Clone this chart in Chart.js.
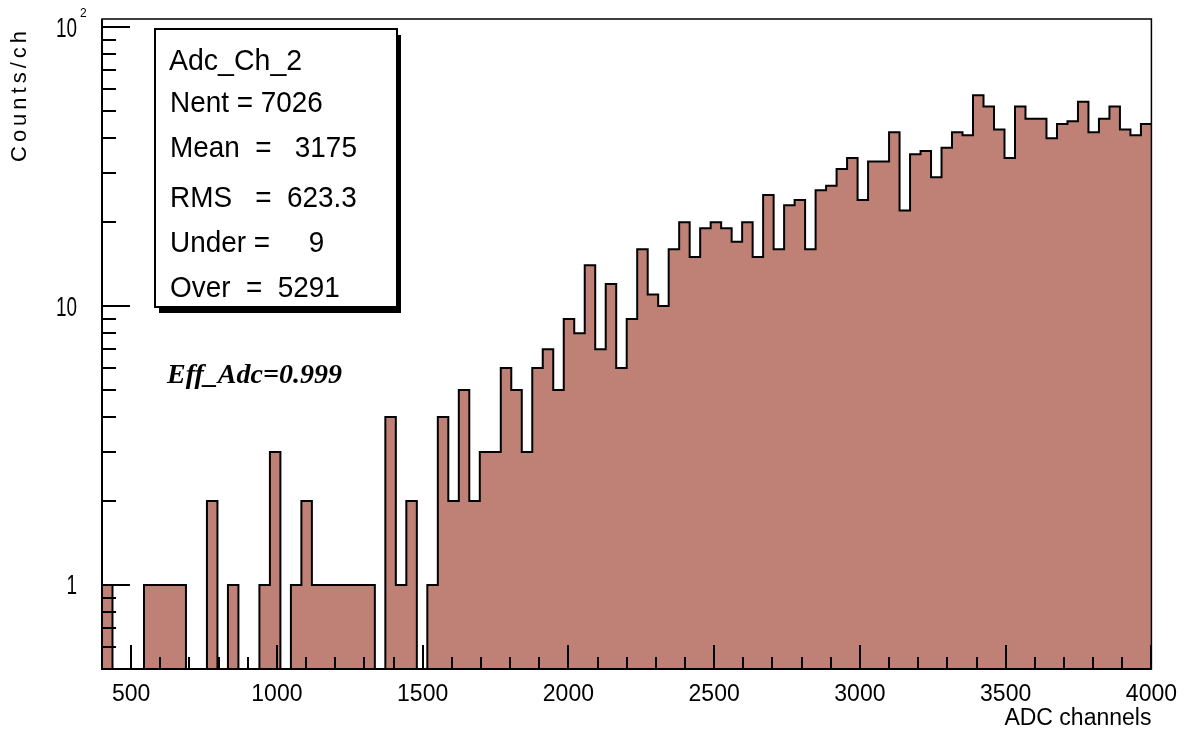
<!DOCTYPE html>
<html>
<head>
<meta charset="utf-8">
<title>Adc_Ch_2</title>
<script src="https://cdn.jsdelivr.net/npm/chart.js@4/dist/chart.umd.min.js"></script>
<style>
  html, body { margin: 0; padding: 0; background: #ffffff; }
  #wrap { width: 1189px; height: 736px; }
</style>
</head>
<body>
<div id="wrap"><canvas id="hist" width="1189" height="736"></canvas></div>
<script>
// ADC channel 2 spectrum: 100 bins of 36 channels between 400 and 4000
const histName = 'Adc_Ch_2';
const binLow = 400;
const binHigh = 4000;
const binWidth = 36;
const counts = [
   1,  0,  0,  0,  1,  1,  1,  1,  0,  0,
   2,  0,  1,  0,  0,  1,  3,  0,  1,  2,
   1,  1,  1,  1,  1,  1,  0,  4,  1,  2,
   0,  1,  4,  2,  5,  2,  3,  3,  6,  5,
   3,  6,  7,  5,  9,  8, 14,  7, 12,  6,
   9, 16, 11, 10, 16, 20, 15, 19, 20, 19,
  17, 20, 15, 25, 16, 23, 24, 16, 26, 27,
  31, 34, 24, 33, 33, 42, 22, 35, 36, 29,
  37, 42, 41, 57, 52, 43, 34, 52, 47, 47,
  40, 45, 46, 54, 42, 47, 52, 43, 41, 45
];

// statistics box
const statLines = [
  'Nent = 7026',
  'Mean  =   3175',
  'RMS   =  623.3',
  'Under =     9',
  'Over  =  5291'
];
const effLabel = 'Eff_Adc=0.999';

// axes
const xTitle = 'ADC channels';
const yTitle = 'Counts/ch';
const xMajorTicks = [500, 1000, 1500, 2000, 2500, 3000, 3500, 4000];
const xMinorTicks = [600, 700, 800, 900, 1100, 1200, 1300, 1400, 1600, 1700, 1800, 1900,
                     2100, 2200, 2300, 2400, 2600, 2700, 2800, 2900, 3100, 3200, 3300, 3400,
                     3600, 3700, 3800, 3900];
const yMajorTicks = [1, 10, 100];
const yTickBase = ['1', '10', '10'];
const yTickExp = ['', '', '2'];
const yMinorTicks = [0.6, 0.7, 0.8, 0.9, 2, 3, 4, 5, 6, 7, 8, 9, 20, 30, 40, 50, 60, 70, 80, 90];
const yMin = 0.5;
const yMax = 107;

// empty bins are sent below the axis floor so the outline drops to the bottom
const EMPTY = 0.01;
const steps = [{ x: binLow, y: EMPTY }];
counts.forEach((c, i) => steps.push({ x: binLow + i * binWidth, y: c > 0 ? c : EMPTY }));
steps.push({ x: binHigh, y: counts[counts.length - 1] > 0 ? counts[counts.length - 1] : EMPTY });

const SANS = '"Liberation Sans", Arial, Helvetica, sans-serif';
const SERIF = '"Liberation Serif", "Times New Roman", serif';

function scaledText(ctx, text, x, y, sx) {
  ctx.save();
  ctx.translate(x, y);
  ctx.scale(sx, 1);
  ctx.fillText(text, 0, 0);
  ctx.restore();
}

// frame, inward tick marks, log labels, y title, stats box and efficiency note
const decorations = {
  id: 'decorations',
  afterDraw(chart) {
    const ctx = chart.ctx;
    const area = chart.chartArea;
    const xs = chart.scales.x;
    const ys = chart.scales.y;
    ctx.save();
    ctx.strokeStyle = '#000';
    ctx.fillStyle = '#000';
    ctx.lineCap = 'butt';

    // y tick marks (pointing into the plot)
    ctx.lineWidth = 2;
    ctx.beginPath();
    yMajorTicks.forEach(v => {
      const y = Math.round(ys.getPixelForValue(v));
      ctx.moveTo(area.left, y); ctx.lineTo(area.left + 28, y);
    });
    yMinorTicks.forEach(v => {
      const y = Math.round(ys.getPixelForValue(v));
      ctx.moveTo(area.left, y); ctx.lineTo(area.left + 14, y);
    });
    ctx.stroke();

    // x tick marks (pointing up)
    ctx.beginPath();
    xMajorTicks.forEach(v => {
      const x = Math.round(xs.getPixelForValue(v));
      ctx.moveTo(x, area.bottom); ctx.lineTo(x, area.bottom - 24);
    });
    xMinorTicks.forEach(v => {
      const x = Math.round(xs.getPixelForValue(v));
      ctx.moveTo(x, area.bottom); ctx.lineTo(x, area.bottom - 12);
    });
    ctx.stroke();

    // frame
    ctx.lineWidth = 1.5;
    ctx.strokeRect(area.left, area.top, area.right - area.left, area.bottom - area.top);
    ctx.lineWidth = 2;
    ctx.beginPath();
    ctx.moveTo(area.left, area.top); ctx.lineTo(area.left, area.bottom); ctx.lineTo(area.right, area.bottom);
    ctx.stroke();

    // y tick labels with exponent
    ctx.textAlign = 'right';
    ctx.textBaseline = 'middle';
    yMajorTicks.forEach((v, i) => {
      const y = ys.getPixelForValue(v);
      ctx.font = '27px ' + SANS;
      ctx.save();
      ctx.translate(77, y + 2);
      ctx.scale(0.7, 1);
      ctx.fillText(yTickBase[i], 0, 0);
      ctx.restore();
      if (yTickExp[i]) {
        ctx.font = '12px ' + SANS;
        ctx.textAlign = 'left';
        ctx.fillText(yTickExp[i], 80, y - 14);
        ctx.textAlign = 'right';
      }
    });

    // y axis title, read bottom to top, flush with the top of the frame
    ctx.save();
    ctx.translate(20, 162);
    ctx.rotate(-Math.PI / 2);
    ctx.font = '22px ' + SANS;
    ctx.textAlign = 'left';
    ctx.textBaseline = 'middle';
    if ('letterSpacing' in ctx) ctx.letterSpacing = '4px';
    ctx.fillText(yTitle, 0, 0);
    ctx.restore();

    // statistics box with drop shadow
    const bx = 155, by = 29, bw = 242, bh = 278;
    ctx.fillRect(bx + 4, by + 6, bw, bh);
    ctx.fillStyle = '#fff';
    ctx.fillRect(bx, by, bw, bh);
    ctx.lineWidth = 2;
    ctx.strokeRect(bx, by, bw, bh);
    ctx.fillStyle = '#000';
    ctx.textAlign = 'left';
    ctx.textBaseline = 'alphabetic';
    ctx.font = '30px ' + SANS;
    scaledText(ctx, histName, 169, 70, 0.95);
    const baselines = [112, 157, 207, 252, 297];
    statLines.forEach((t, i) => scaledText(ctx, t, 170, baselines[i], 0.93));

    // efficiency note
    ctx.font = 'italic bold 28px ' + SERIF;
    ctx.fillText(effLabel, 167, 383);
    ctx.restore();
  }
};

new Chart(document.getElementById('hist'), {
  type: 'line',
  data: {
    datasets: [{
      label: histName,
      data: steps,
      stepped: 'before',
      fill: 'start',
      backgroundColor: '#bf8075',
      borderColor: '#000000',
      borderWidth: 2,
      pointRadius: 0,
      tension: 0
    }]
  },
  options: {
    responsive: false,
    animation: false,
    layout: { padding: { top: 19, right: 33, left: 0, bottom: 0 } },
    plugins: {
      legend: { display: false },
      tooltip: { enabled: false }
    },
    scales: {
      x: {
        type: 'linear',
        min: binLow,
        max: binHigh,
        grid: { display: false, drawTicks: false },
        border: { display: false },
        afterBuildTicks: s => { s.ticks = xMajorTicks.map(v => ({ value: v })); },
        afterFit: s => { s.height = 67; },
        ticks: {
          color: '#000',
          padding: 12,
          maxRotation: 0,
          autoSkip: false,
          font: { family: SANS, size: 23 },
          callback: v => String(v)
        },
        title: {
          display: true,
          text: xTitle,
          align: 'end',
          color: '#000',
          font: { family: SANS, size: 23 },
          padding: { top: 0, bottom: 4 }
        }
      },
      y: {
        type: 'logarithmic',
        min: yMin,
        max: yMax,
        grid: { display: false, drawTicks: false },
        border: { display: false },
        afterBuildTicks: s => { s.ticks = yMajorTicks.map(v => ({ value: v })); },
        afterFit: s => { s.width = 102; },
        ticks: { display: false },
        title: { display: false }
      }
    }
  },
  plugins: [decorations]
});
</script>
</body>
</html>
